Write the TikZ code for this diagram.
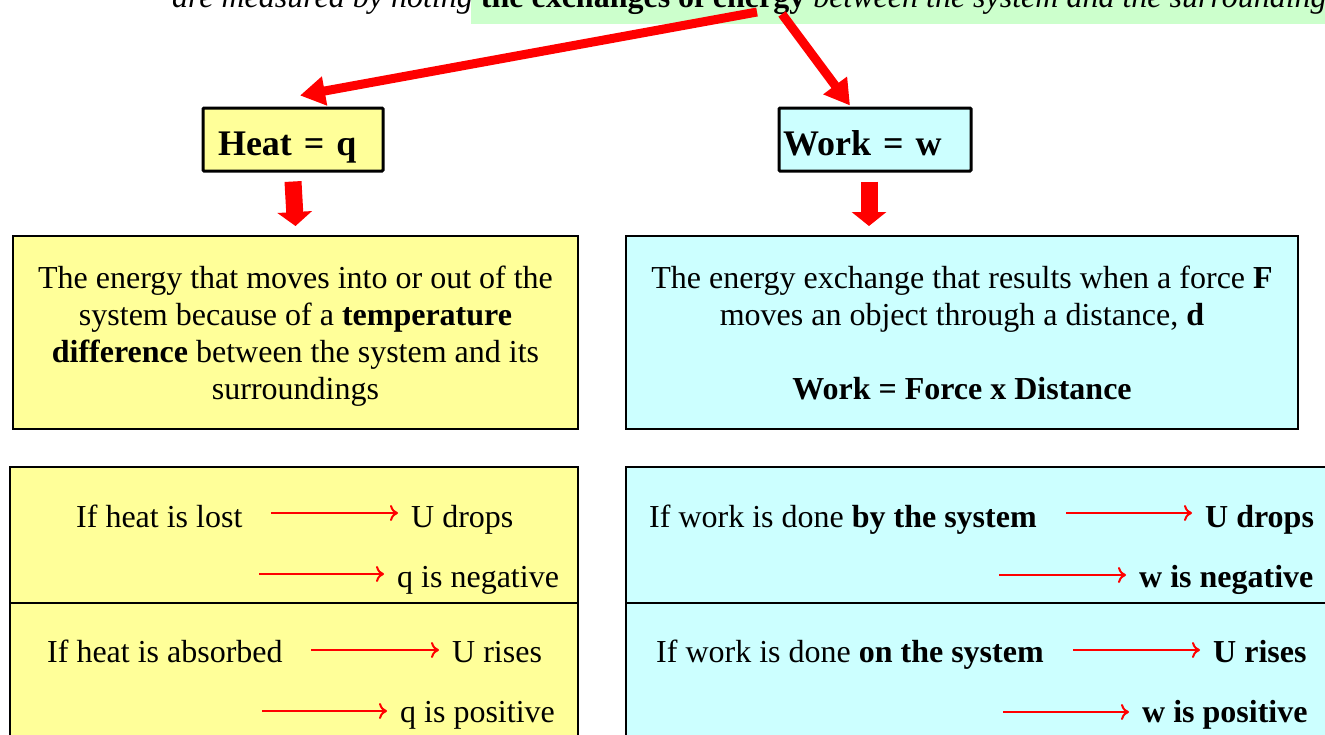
\documentclass[tikz,border=0pt]{standalone}
\usepackage{fontspec}
\setmainfont{Liberation Serif}
\usetikzlibrary{arrows.meta}
\definecolor{paleyellow}{HTML}{FFFF99}
\definecolor{palecyan}{HTML}{CCFFFF}
\definecolor{palegreen}{HTML}{CCFFCC}
\tikzstyle{titleh}=[draw,line width=3pt,fill=paleyellow,rounded corners=1pt,minimum height=63pt,inner sep=0pt,align=left,text height=31pt,text depth=0pt,font=\fontsize{36}{40}\selectfont\bfseries]
\tikzstyle{titlew}=[titleh,fill=palecyan]
\tikzstyle{defh}=[draw,line width=2pt,fill=paleyellow,minimum height=193pt,inner sep=0pt]
\tikzstyle{defw}=[defh,fill=palecyan]
\tikzstyle{deftxt}=[inner sep=0pt,align=center,font=\fontsize{32}{37}\selectfont]
\tikzstyle{cellh}=[draw,line width=2.5pt,fill=paleyellow]
\tikzstyle{cellw}=[cellh,fill=palecyan]
\tikzstyle{txt}=[anchor=base west,inner sep=0pt,font=\fontsize{32}{37}\selectfont]
\tikzstyle{bigarrow}=[red,line width=9pt,-{Triangle[length=25pt,width=28pt]}]
\tikzstyle{blockarrow}=[red,line width=17pt,-{Triangle[length=14pt,width=34pt]}]
\tikzstyle{thinarrow}=[red,line width=2pt,-{To[length=8pt,width=16pt]},shorten >=13pt]

\begin{document}
\begin{tikzpicture}[x=1pt,y=-1pt]
    \useasboundingbox (0,0) rectangle (1325,734);
    \clip (0,0) rectangle (1325,734);

    % cut-off line at the top
    \fill[palegreen] (471,0) rectangle (1325,24);
    \node[txt] (topline) at (172,7) {\textit{are measured by noting} \textbf{the exchanges of energy} \textit{between the system and the surroundings}};
    \coordinate (srcheat) at (757,12);
    \coordinate (srcwork) at (782,14);

    \node[titleh,minimum width=180pt,text width=150pt] (heat) at (293,139.5) {Heat = q};
    \node[titlew,minimum width=192pt,text width=184pt] (work) at (875,139.5) {Work = w};

    \draw[bigarrow] (srcheat) -- ([xshift=7pt,yshift=11pt]heat.north);
    \draw[bigarrow] (srcwork) -- ([xshift=-25pt,yshift=1pt]work.north);

    \node[defh,minimum width=565pt] (heatdef) at (295.5,332.5) {};
    \node[defw,minimum width=672pt] (workdef) at (962,332.5) {};
    \node[deftxt] (heattxt) at ([yshift=-4pt]heatdef.center)
        {The energy that moves into or out of the\\ system because of a \textbf{temperature}\\ \textbf{difference} between the system and its\\ surroundings};
    \node[deftxt] (worktxt) at (workdef.center)
        {The energy exchange that results when a force \textbf{F}\\ moves an object through a distance, \textbf{d}\\[37pt] \textbf{Work = Force x Distance}};

    \draw[blockarrow] ([yshift=-9pt]heat.south) -- ([yshift=9pt]heatdef.north);
    \draw[blockarrow] ([xshift=-6pt,yshift=-9pt]work.south) -- ([xshift=-93pt,yshift=9pt]workdef.north);

    % sign tables
    \draw[cellh] (10,467) rectangle (578,603);
    \draw[cellh] (10,603) rectangle (578,750);
    \draw[cellw] (626,467) rectangle (1345,603);
    \draw[cellw] (626,603) rectangle (1345,750);

    \node[txt] (c1) at (76,527) {If heat is lost};
    \node[txt] (r1) at (411,527) {U drops};
    \node[txt] (r2) at (397,587) {q is negative};
    \node[txt] (c3) at (47,662) {If heat is absorbed};
    \node[txt] (r3) at (452,662) {U rises};
    \node[txt] (r4) at (400,722) {q is positive};

    \node[txt] (c5) at (649,527) {If work is done \textbf{by the system}};
    \node[txt] (r5) at (1205,527) {\textbf{U drops}};
    \node[txt] (r6) at (1139,587) {\textbf{w is negative}};
    \node[txt] (c7) at (656,662) {If work is done \textbf{on the system}};
    \node[txt] (r7) at (1213,662) {\textbf{U rises}};
    \node[txt] (r8) at (1142,722) {\textbf{w is positive}};

    \coordinate (s1) at (271,513);
    \coordinate (s2) at (259,574);
    \coordinate (s3) at (311,650);
    \coordinate (s4) at (262,711);
    \coordinate (s5) at (1066,513);
    \coordinate (s6) at (999,575);
    \coordinate (s7) at (1073,650);
    \coordinate (s8) at (1003,712);

    \foreach \from/\to in {s1/r1,s2/r2,s3/r3,s4/r4,s5/r5,s6/r6,s7/r7,s8/r8}
    \draw[thinarrow] (\from) -- (\from -| \to.west);
\end{tikzpicture}
\end{document}
